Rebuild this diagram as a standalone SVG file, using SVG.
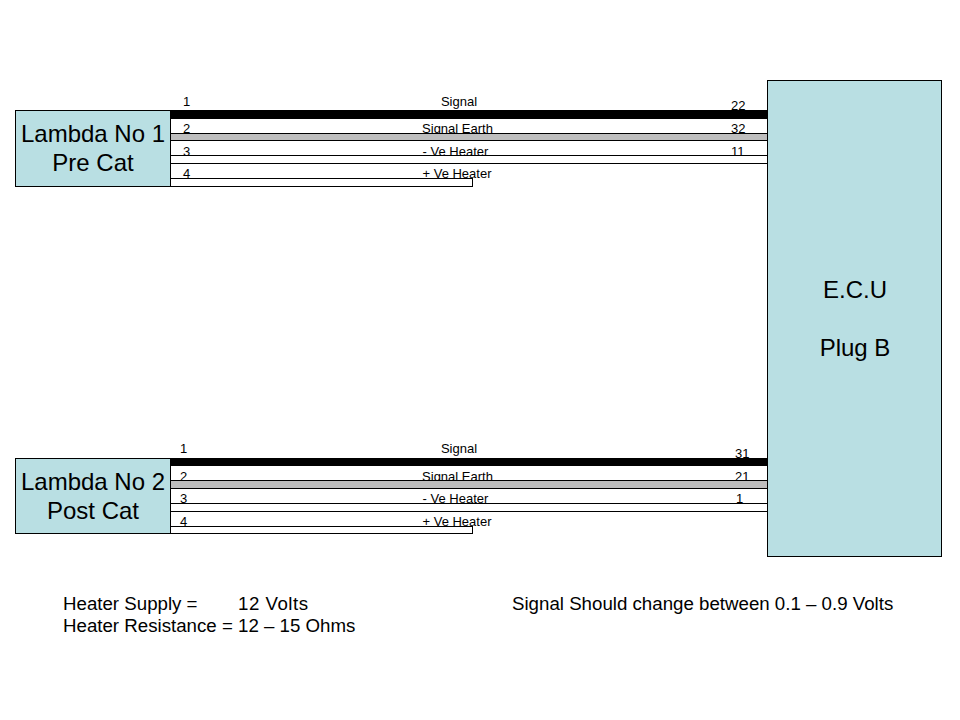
<svg xmlns="http://www.w3.org/2000/svg" width="960" height="720" viewBox="0 0 960 720">
<style>
text{font-family:"Liberation Sans",Arial,sans-serif;fill:#000}
.s{font-size:13px}
.m{text-anchor:middle}
.b{font-size:24px;text-anchor:middle}
.n{font-size:18.700px}
.box{fill:#b9dfe3;stroke:#000;stroke-width:1}
.blk{fill:#000;stroke:#000;stroke-width:1}
.gry{fill:#bebebe;stroke:#000;stroke-width:1}
.wht{fill:#fff;stroke:#000;stroke-width:1}
</style>
<rect width="960" height="720" fill="#fff"/>
<g id="wire-labels">
<text class="s" x="183" y="105.500">1</text>
<text class="s" x="183" y="133">2</text>
<text class="s" x="183" y="156">3</text>
<text class="s" x="183" y="178">4</text>
<text class="s m" x="459" y="105.500">Signal</text>
<text class="s m" x="457.500" y="133">Signal Earth</text>
<text class="s m" x="455.500" y="156">- Ve Heater</text>
<text class="s m" x="457" y="178">+ Ve Heater</text>
<text class="s" x="731" y="110">22</text>
<text class="s" x="731" y="133">32</text>
<text class="s" x="731" y="156">11</text>
<text class="s" x="180" y="452.500">1</text>
<text class="s" x="180" y="481">2</text>
<text class="s" x="180" y="503">3</text>
<text class="s" x="180" y="526">4</text>
<text class="s m" x="459" y="452.500">Signal</text>
<text class="s m" x="457.500" y="481">Signal Earth</text>
<text class="s m" x="455.500" y="503">- Ve Heater</text>
<text class="s m" x="457" y="526">+ Ve Heater</text>
<text class="s" x="735" y="458">31</text>
<text class="s" x="735" y="481">21</text>
<text class="s" x="736" y="503">1</text>
</g>
<g id="connectors">
<rect class="blk" x="170.500" y="110.500" width="597" height="8"/>
<rect class="gry" x="170.500" y="133.500" width="597" height="7"/>
<rect class="wht" x="170.500" y="155.500" width="597" height="8"/>
<rect class="wht" x="170.500" y="178.500" width="302" height="8"/>
<rect class="blk" x="170.500" y="458.500" width="597" height="7"/>
<rect class="gry" x="170.500" y="480.500" width="597" height="8"/>
<rect class="wht" x="170.500" y="503.500" width="597" height="8"/>
<rect class="wht" x="170.500" y="526.500" width="302" height="7"/>
</g>
<g id="lambda1">
<rect class="box" x="15.500" y="110.500" width="155" height="76"/>
<text class="b" x="93" y="142">Lambda No 1</text>
<text class="b" x="93" y="171">Pre Cat</text>
</g>
<g id="lambda2">
<rect class="box" x="15.500" y="458.500" width="155" height="75"/>
<text class="b" x="93" y="490">Lambda No 2</text>
<text class="b" x="93" y="519">Post Cat</text>
</g>
<g id="ecu">
<rect class="box" x="767.500" y="80.500" width="174" height="476"/>
<text class="b" x="855" y="298">E.C.U</text>
<text class="b" x="855" y="356">Plug B</text>
</g>
<g id="notes">
<text class="n" x="63" y="610">Heater Supply =</text>
<text class="n" x="238" y="610" textLength="70">12 Volts</text>
<text class="n" x="63" y="632">Heater Resistance = 12 – 15 Ohms</text>
<text class="n" x="512" y="610">Signal Should change between 0.1 – 0.9 Volts</text>
</g>
</svg>
